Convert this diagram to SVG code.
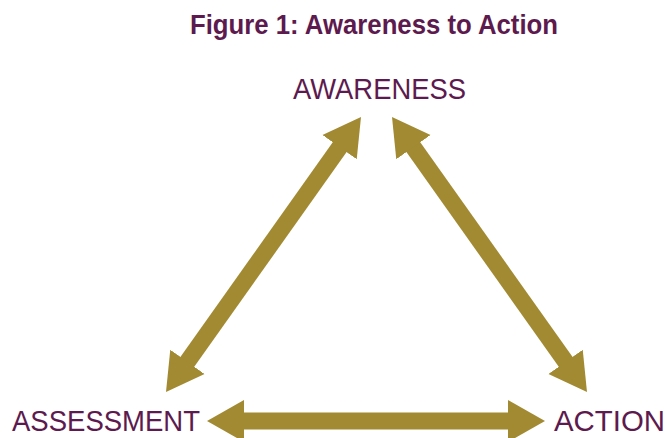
<svg xmlns="http://www.w3.org/2000/svg" width="667" height="438" viewBox="0 0 667 438">
  <style>
    .title { font-family: "Liberation Sans", Arial, sans-serif; font-weight: bold; font-size: 27px; fill: #5C1A4E; }
    .label { font-family: "Liberation Sans", Arial, sans-serif; font-size: 29px; fill: #5C1A4E; }
    .conn { stroke: #A28A32; stroke-width: 17; fill: none; marker-start: url(#head); marker-end: url(#head); }
  </style>
  <defs>
    <marker id="head" markerUnits="userSpaceOnUse" viewBox="0 -22 38 44" refX="2" refY="0" markerWidth="38" markerHeight="44" orient="auto-start-reverse">
      <path d="M0,-21 L37,0 L0,21 Z" fill="#A28A32"/>
    </marker>
  </defs>
  <rect width="667" height="438" fill="#FFFFFF"/>
  <text class="title" x="190" y="34" textLength="368" lengthAdjust="spacingAndGlyphs">Figure 1: Awareness to Action</text>
  <g id="connectors">
    <line class="conn" x1="186.25" y1="363.45" x2="340.75" y2="145.55"/>
    <line class="conn" x1="412.25" y1="145.55" x2="566.75" y2="363.45"/>
    <line class="conn" x1="242" y1="421" x2="510" y2="421"/>
  </g>
  <g id="awareness">
    <text class="label" x="293" y="98.5" textLength="173" lengthAdjust="spacingAndGlyphs">AWARENESS</text>
  </g>
  <g id="assessment">
    <text class="label" x="12" y="431" textLength="188" lengthAdjust="spacingAndGlyphs">ASSESSMENT</text>
  </g>
  <g id="action">
    <text class="label" x="554" y="431" textLength="111" lengthAdjust="spacingAndGlyphs">ACTION</text>
  </g>
</svg>
